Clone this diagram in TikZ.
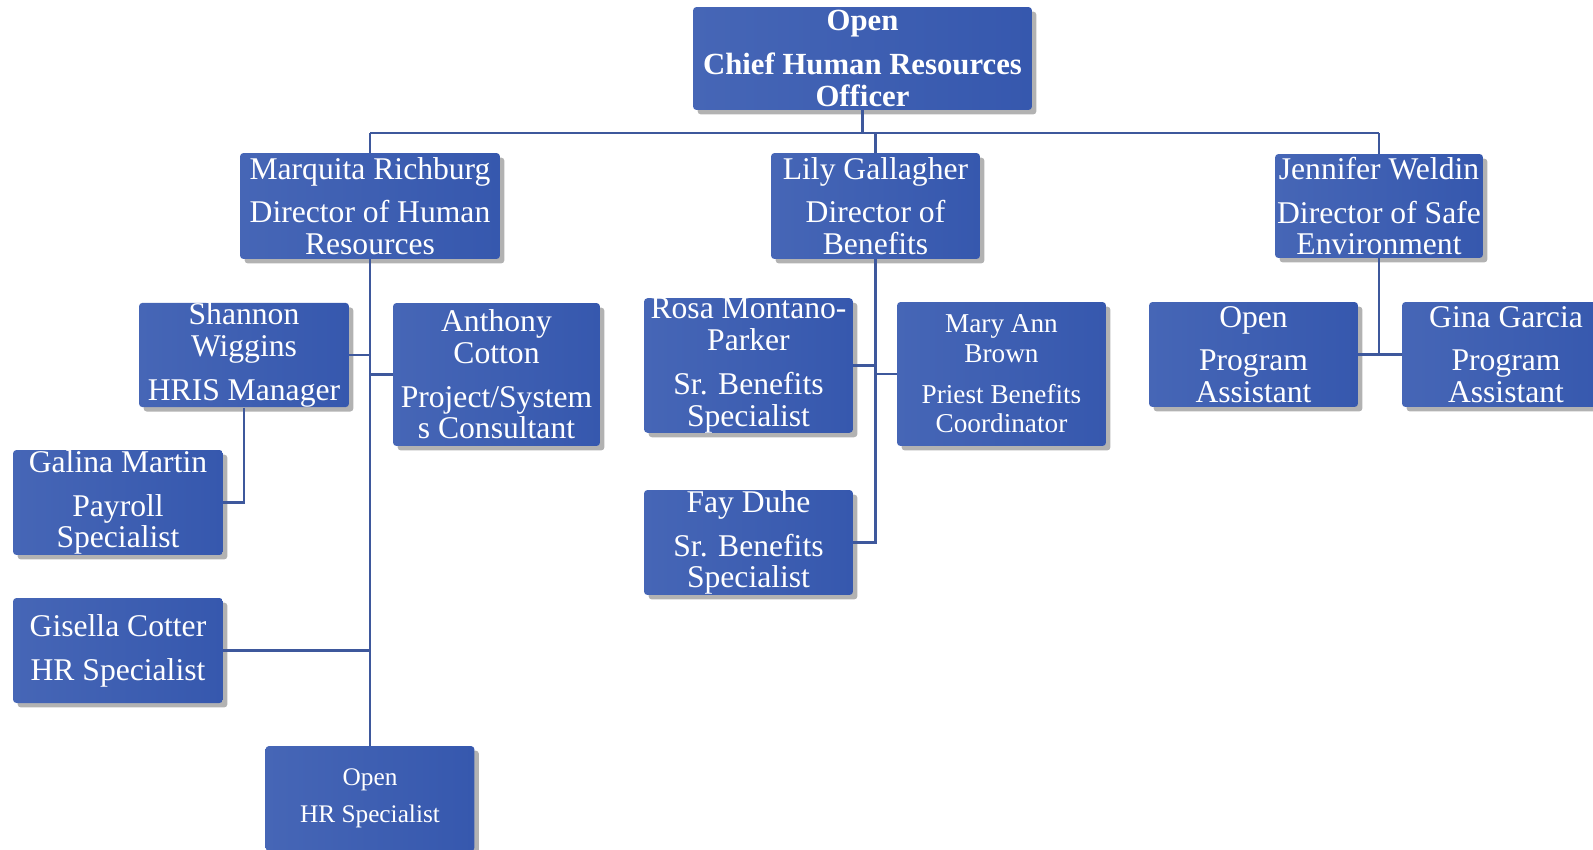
\documentclass[tikz,border=0pt]{standalone}
\usepackage{fontspec}
\setmainfont{Liberation Serif}
\usepackage{tikz}
\usetikzlibrary{shadows}

\definecolor{boxblue}{RGB}{54,88,174}
\definecolor{boxlight}{RGB}{70,102,182}
\definecolor{linkblue}{RGB}{62,88,156}

\begin{document}
\begin{tikzpicture}[x=0.02cm, y=-0.02cm,
    staff/.style={rectangle, rounded corners=2pt, inner sep=0pt,
        left color=boxlight, right color=boxblue, draw=none,
        drop shadow={shadow xshift=0.09cm, shadow yshift=-0.09cm, fill=black, opacity=0.3},
        text=white, align=center, minimum width=4.18cm, minimum height=2.1cm,
        font=\fontsize{18}{18}\selectfont},
    link/.style={draw=linkblue, line width=1.3pt}]
    \useasboundingbox (0,0) rectangle (1593,849);

    \node[staff, minimum width=6.78cm, minimum height=2.06cm,
          font=\bfseries\fontsize{17.5}{18}\selectfont] (ceo) at (862.5,58.5)
          {Open\\[7pt]Chief Human Resources\\Officer};

    \node[staff, minimum width=5.2cm, minimum height=2.12cm] (marquita) at (370,206)
          {Marquita Richburg\\[7pt]Director of Human\\Resources};
    \node[staff, minimum height=2.12cm] (lily) at (875.5,206)
          {Lily Gallagher\\[7pt]Director of\\Benefits};
    \node[staff, minimum width=4.16cm, minimum height=2.08cm] (jennifer) at (1379,206)
          {Jennifer Weldin\\[7pt]Director of Safe\\Environment};

    \node[staff, minimum width=4.2cm, minimum height=2.08cm] (shannon) at (244,355)
          {Shannon\\Wiggins\\[7pt]HRIS Manager};
    \node[staff, minimum width=4.14cm, minimum height=2.86cm] (anthony) at (496.5,374.5)
          {Anthony\\Cotton\\[7pt]Project/System\\s Consultant};
    \node[staff, minimum width=4.2cm] (galina) at (118,502.5)
          {Galina Martin\\[7pt]Payroll\\Specialist};
    \node[staff, minimum width=4.2cm] (gisella) at (118,650.5)
          {Gisella Cotter\\[7pt]HR Specialist};
    \node[staff, font=\fontsize{14.4}{15}\selectfont] (openhr) at (370,798.5)
          {Open\\[6pt]HR Specialist};

    \node[staff, minimum height=2.54cm] (rosa) at (748.5,365.5)
          {Rosa Montano-\\Parker\\[7pt]Sr. Benefits\\Specialist};
    \node[staff, minimum height=2.88cm, font=\fontsize{15.5}{17}\selectfont] (maryann) at (1001.5,374)
          {Mary Ann\\Brown\\[6pt]Priest Benefits\\Coordinator};
    \node[staff] (fay) at (748.5,542.5)
          {Fay Duhe\\[7pt]Sr. Benefits\\Specialist};

    \node[staff] (openpa) at (1253.5,354.5)
          {Open\\[7pt]Program\\Assistant};
    \node[staff, minimum width=4.16cm] (gina) at (1506,354.5)
          {Gina Garcia\\[7pt]Program\\Assistant};

    % reporting lines
    \coordinate (bus) at (862.5,133);
    \draw[link] (ceo.south) -- (bus);
    \draw[link] (marquita.north |- bus) -- (jennifer.north |- bus);
    \draw[link] (marquita.north |- bus) -- (marquita.north);
    \draw[link] (lily.north |- bus) -- (lily.north);
    \draw[link] (jennifer.north |- bus) -- (jennifer.north);

    \draw[link] (marquita.south) -- (openhr.north);
    \draw[link] (shannon.east) -- (shannon.east -| marquita.south);
    \draw[link] (anthony.west) -- (anthony.west -| marquita.south);
    \draw[link] (gisella.east) -- (gisella.east -| marquita.south);
    \draw[link] (shannon.south) |- (galina.east);

    \draw[link] (lily.south) |- (fay.east);
    \draw[link] (rosa.east) -- (rosa.east -| lily.south);
    \draw[link] (maryann.west) -- (maryann.west -| lily.south);

    \draw[link] (jennifer.south) -- (jennifer.south |- openpa.east);
    \draw[link] (openpa.east) -- (gina.west);
\end{tikzpicture}
\end{document}
